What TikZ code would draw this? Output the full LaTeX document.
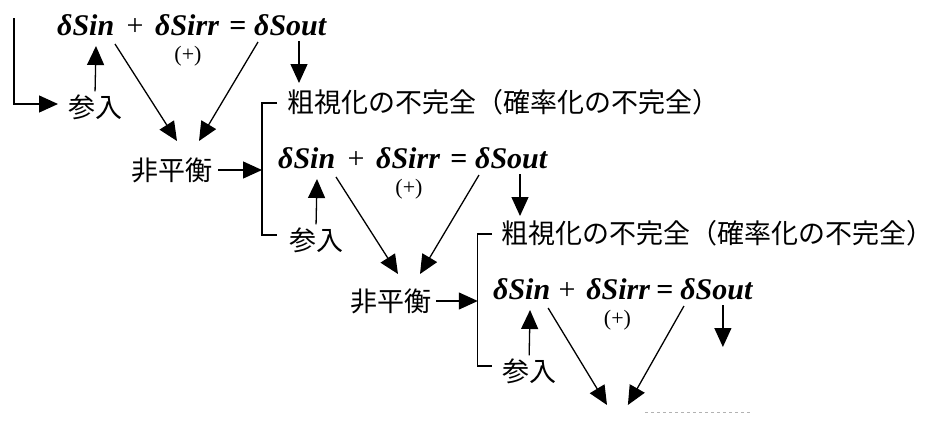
\documentclass[tikz,border=0pt]{standalone}
\usepackage{fontspec}
\setmainfont{Liberation Serif}
\newfontfamily\jpf{Noto Sans CJK JP}
\usetikzlibrary{arrows.meta}
\begin{document}
\begin{tikzpicture}[x=1pt,y=-1pt,
  eqn/.style={inner sep=0pt, anchor=base west, font=\fontsize{30}{30}\selectfont\bfseries\itshape},
  op/.style={inner sep=0pt, anchor=base, font=\fontsize{30}{30}\selectfont},
  plusmark/.style={inner sep=0pt, font=\fontsize{22}{22}\selectfont},
  jp/.style={inner sep=0pt, font=\jpf\fontsize{27}{27}\selectfont},
  arr/.style={line width=1.3pt, -{Triangle[length=19pt,width=17pt]}},
  ln/.style={line width=1.3pt}]
\useasboundingbox (0,0) rectangle (948,421);
\foreach \r/\dx/\dy/\k in {1/0/0/1,2/221/133/1,3/438.85/264/0.95}{
 \begin{scope}[shift={(\dx,\dy)}, xscale=\k]
  \node[eqn] (sin\r) at (57,35) {δSin};
  \node[op] (pl\r) at (135,35) {+};
  \node[eqn] (sirr\r) at (155,35) {δSirr};
  \node[op] (eq\r) at (238,35) {\bfseries =};
  \node[eqn] (sout\r) at (254,35) {δSout};
  \node[plusmark] (pos\r) at (188,56) {(+)};
  \node[jp] (sn\r) at (95,107) {参入};
  \coordinate (inT\r) at (96,46);
  \coordinate (a\r) at (115,44);
  \coordinate (aT\r) at (177,141);
  \coordinate (b\r) at (258,42);
  \coordinate (bT\r) at (199,141);
  \coordinate (c\r) at (299,41);
  \coordinate (cT\r) at (299,83);
  \draw[arr, shorten <=3pt] (sn\r.north) -- (inT\r);
  \draw[arr] (a\r) -- (aT\r);
  \draw[arr] (b\r) -- (bT\r);
  \draw[arr] (c\r) -- (cT\r);
 \end{scope}
}
\foreach \r/\dx/\dy/\k in {2/221/133/1,3/438.85/264/0.95}{
 \begin{scope}[shift={(\dx,\dy)}, xscale=\k]
  \node[jp, anchor=west] (ks\r) at (66,-31) {粗視化の不完全（確率化の不完全）};
  \node[jp, anchor=east] (hh\r) at (-8,37) {非平衡};
  \coordinate (bt\r) at (41,-30);
  \coordinate (bb\r) at (41,102);
  \draw[ln] (bt\r) ++(15,0) -- (bt\r) -- (bb\r) -- ++(15,0);
  \draw[arr, shorten <=5pt] (hh\r.east) -- (hh\r.east -| bt\r);
 \end{scope}
}
\coordinate (L) at (14,18);
\coordinate (LT) at (58,104);
\draw[arr] (L) |- (LT);
\draw[gray!60, dashed, line width=0.8pt] (645,412) -- (750,412);
\end{tikzpicture}
\end{document}
